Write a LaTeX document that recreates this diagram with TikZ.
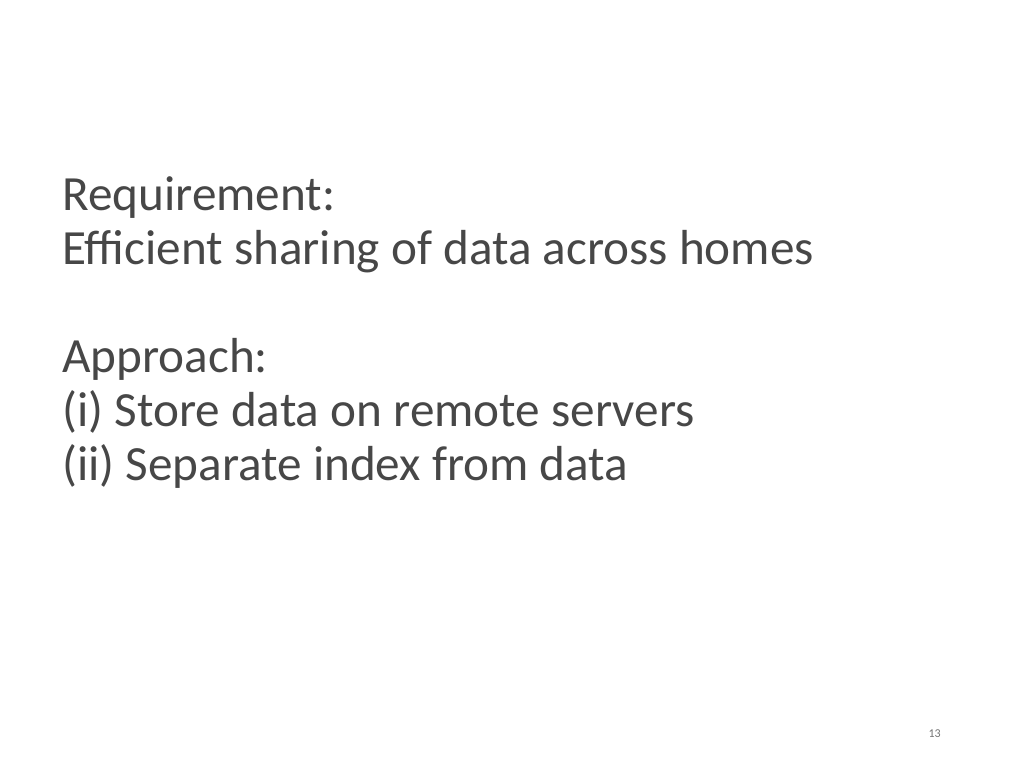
\documentclass[tikz,border=0pt]{standalone}
\usepackage{fontspec}
\setmainfont{Carlito}
\begin{document}
\begin{tikzpicture}[x=1pt,y=1pt, every node/.style={inner sep=0pt}]
  \tikzset{bodyline/.style={anchor=base west, font=\fontsize{36.9}{40}\selectfont, text=black!72}}
  \useasboundingbox (0,0) rectangle (768,-576);
  \node[bodyline] (req) at (46.5,-158) {Requirement:};
  \node[bodyline] (eff) at (46.5,-198.5) {Efficient sharing of data across homes};
  \node[bodyline] (app) at (46.5,-279.5) {Approach:};
  \node[bodyline] (one) at (46.5,-320) {(i) Store data on remote servers};
  \node[bodyline] (two) at (46.5,-360.5) {(ii) Separate index from data};
  % slide number
  \node[font=\fontsize{9}{10}\selectfont, text=black!55] (num) at (701,-550) {13};
\end{tikzpicture}
\end{document}
